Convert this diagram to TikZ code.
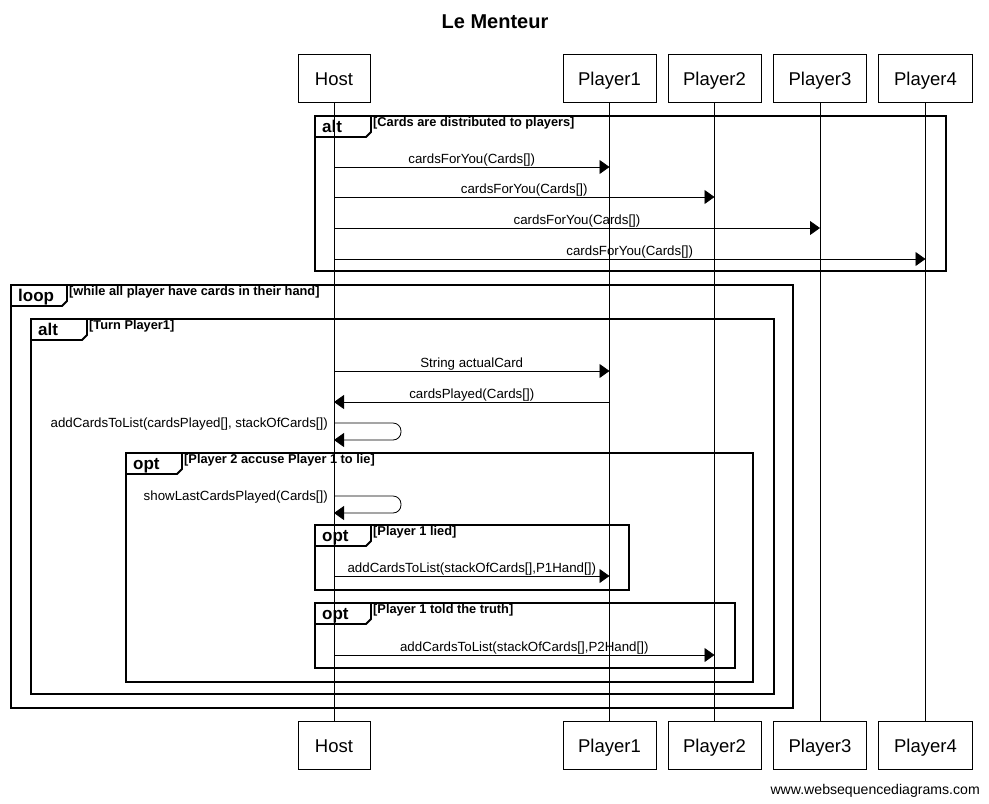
\documentclass[tikz,border=0pt]{standalone}
\usepackage{fontspec}
\setmainfont{Liberation Sans}
\usetikzlibrary{arrows.meta}

% combined fragment: name, x0, y0, x1, y1, keyword, guard
\newcommand{\seqframe}[7]{%
  \draw[framebox] (#2,#3) rectangle (#4,#5);
  \draw[framebox] (#2,#3+21) -- (#2+51,#3+21) -- (#2+56,#3+16) -- (#2+56,#3);
  \node[framekw, anchor=base west] (#1kw) at (#2+7,#3+16) {#6};
  \node[guard, anchor=base west] (#1g) at (#2+58,#3+10.5) {[#7]};
}

\begin{document}
\begin{tikzpicture}[x=1pt,y=-1pt,
  party/.style={draw, line width=0.8pt, minimum height=48pt, inner sep=0pt,
    text height=14pt, text depth=0pt, font=\fontsize{18.5}{18.5}\selectfont},
  lifeline/.style={line width=0.8pt},
  framebox/.style={line width=1.8pt, line join=miter},
  framekw/.style={font=\fontsize{17}{17}\selectfont\bfseries, inner sep=0pt},
  guard/.style={font=\fontsize{12.8}{12.8}\selectfont\bfseries, inner sep=0pt},
  msg/.style={line width=0.8pt, -{Triangle[length=10pt,width=14pt]}},
  mlabel/.style={font=\fontsize{13.3}{13.3}\selectfont, inner sep=0.6pt, above},
  slabel/.style={font=\fontsize{13.3}{13.3}\selectfont, inner sep=0pt, anchor=east},
]
\useasboundingbox (0,0) rectangle (989,804);

% title
\node[font=\fontsize{20}{20}\selectfont\bfseries] (title) at (495,22) {Le Menteur};

% participants, top and bottom
\node[party, minimum width=72pt] (hostT) at (334,78) {Host};
\node[party, minimum width=93pt] (p1T) at (609.5,78) {Player1};
\node[party, minimum width=93pt] (p2T) at (714.5,78) {Player2};
\node[party, minimum width=93pt] (p3T) at (820,78) {Player3};
\node[party, minimum width=94pt] (p4T) at (925.5,78) {Player4};
\node[party, minimum width=72pt] (hostB) at (334,745) {Host};
\node[party, minimum width=93pt] (p1B) at (609.5,745) {Player1};
\node[party, minimum width=93pt] (p2B) at (714.5,745) {Player2};
\node[party, minimum width=93pt] (p3B) at (820,745) {Player3};
\node[party, minimum width=94pt] (p4B) at (925.5,745) {Player4};

% lifelines
\draw[lifeline] (hostT) -- (hostB);
\draw[lifeline] (p1T) -- (p1B);
\draw[lifeline] (p2T) -- (p2B);
\draw[lifeline] (p3T) -- (p3B);
\draw[lifeline] (p4T) -- (p4B);

% distribution of the cards
\seqframe{deal}{315}{116}{946}{271}{alt}{Cards are distributed to players}
\draw[msg] (hostT |- 0,167) -- node[mlabel] {cardsForYou(Cards[])} (p1T |- 0,167);
\draw[msg] (hostT |- 0,197) -- node[mlabel] {cardsForYou(Cards[])} (p2T |- 0,197);
\draw[msg] (hostT |- 0,228) -- node[mlabel] {cardsForYou(Cards[])} (p3T |- 0,228);
\draw[msg] (hostT |- 0,259) -- node[mlabel] {cardsForYou(Cards[])} (p4T |- 0,259);

% game loop
\seqframe{game}{11}{285}{793}{708}{loop}{while all player have cards in their hand}
\seqframe{turn}{31}{319}{774}{694}{alt}{Turn Player1}
\draw[msg] (hostT |- 0,371) -- node[mlabel] {String actualCard} (p1T |- 0,371);
\draw[msg] (p1T |- 0,402) -- node[mlabel] {cardsPlayed(Cards[])} (hostT |- 0,402);
\draw[msg, rounded corners=8pt] (hostT |- 0,423) -- (401,423) -- (401,440) -- (hostT |- 0,440);
\node[slabel] (addlbl) at (328,424) {addCardsToList(cardsPlayed[], stackOfCards[])};

\seqframe{accuse}{126}{453}{753}{682}{opt}{Player 2 accuse Player 1 to lie}
\draw[msg, rounded corners=8pt] (hostT |- 0,496) -- (401,496) -- (401,513) -- (hostT |- 0,513);
\node[slabel] (showlbl) at (328,497) {showLastCardsPlayed(Cards[])};

\seqframe{lied}{315}{525}{629}{590}{opt}{Player 1 lied}
\draw[msg] (hostT |- 0,576) -- node[mlabel] {addCardsToList(stackOfCards[],P1Hand[])} (p1T |- 0,576);

\seqframe{truth}{315}{603}{735}{668}{opt}{Player 1 told the truth}
\draw[msg] (hostT |- 0,655) -- node[mlabel] {addCardsToList(stackOfCards[],P2Hand[])} (p2T |- 0,655);

% footer
\node[font=\fontsize{14.1}{14.1}\selectfont, anchor=base east, inner sep=0pt] (credit) at (980,794) {www.websequencediagrams.com};
\end{tikzpicture}
\end{document}
